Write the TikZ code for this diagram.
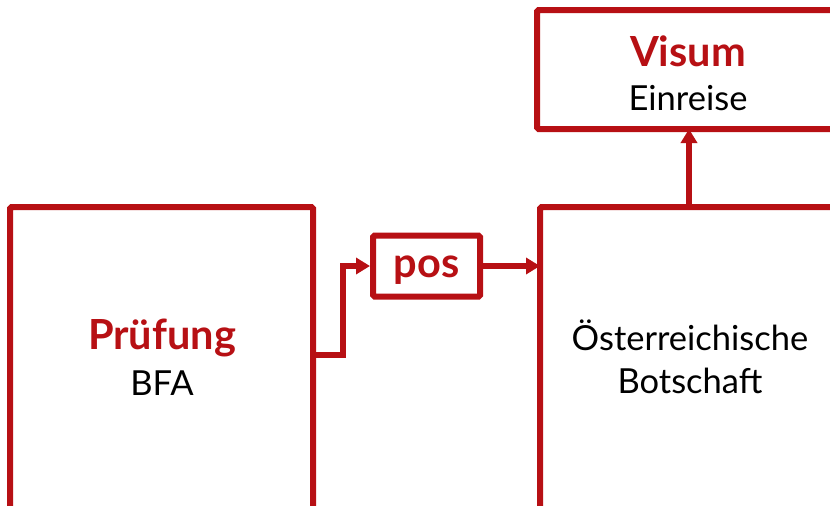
\documentclass[tikz,border=0pt]{standalone}
\usepackage{fontspec}
\setmainfont{Lato}
\usetikzlibrary{arrows.meta}
\definecolor{dred}{HTML}{B71014}
\tikzset{
  box/.style={draw=dred, line width=6pt, rounded corners=1.5pt, fill=white},
  conn/.style={draw=dred, line width=6pt, -{Triangle[length=14pt,width=16pt]}},
  hd/.style={text=dred, font=\fontsize{41.5}{44}\selectfont\bfseries},
  sb/.style={text=black, font=\fontsize{34.5}{40}\selectfont},
}
\begin{document}
\begin{tikzpicture}[x=1pt,y=-1pt]
\useasboundingbox (0,0) rectangle (830,506);
\draw[box] (10,207) rectangle (313,520);
\draw[box] (540,207) rectangle (850,520);
\draw[box] (537,10) rectangle (850,129);
\node[box, minimum width=107pt, minimum height=61pt, inner sep=0pt] (pos) at (426.5,266) {};
\node[hd] at (426.5,270) {pos};
\coordinate (L) at (313,355);
\coordinate (R) at (540,266);
\coordinate (Rt) at (689,207);
\coordinate (V) at (689,129);
\draw[conn] (L) -- (343,355) -- (343,266) -- (pos.west);
\draw[conn] (pos.east) -- (R);
\draw[conn] (Rt) -- (V);
\node[hd] at (162,338) {Prüfung};
\node[sb] at (162,383) {BFA};
\node[sb] at (690,335) {Österreichische};
\node[sb] at (690,381) {Botschaft};
\node[hd] at (688,51) {Visum};
\node[sb] at (688,98) {Einreise};
\end{tikzpicture}
\end{document}
